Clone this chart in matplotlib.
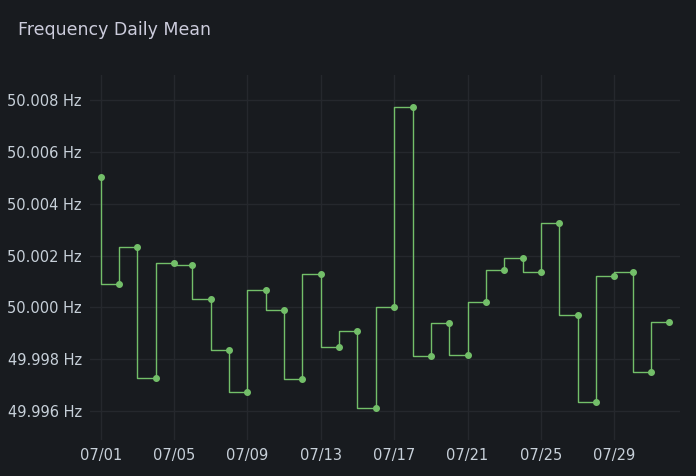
import matplotlib.pyplot as plt
import matplotlib.dates as mdates
import numpy as np
import pandas as pd

dates = pd.date_range("2024-07-01", "2024-08-01", freq="D")
freq = [50.00503, 50.00090, 50.00233, 49.99728, 50.00172, 50.00163, 50.00032,
        49.99836, 49.99673, 50.00067, 49.99990, 49.99724, 50.00130, 49.99848,
        49.99910, 49.99612, 50.00000, 50.00773, 49.99812, 49.99940, 49.99817,
        50.00020, 50.00145, 50.00190, 50.00137, 50.00326, 49.99970, 49.99635,
        50.00122, 50.00137, 49.99752, 49.99945]
tick_dates = pd.date_range("2024-07-01", "2024-07-29", freq="4D")

bg = "#181b1f"
fig = plt.figure(figsize=(6.96, 4.76), dpi=100, facecolor=bg)
ax = fig.add_axes([90 / 696, 36 / 476, 590 / 696, 365 / 476], facecolor=bg)

ax.plot(dates, freq, drawstyle="steps-pre", color="#73bf69", linewidth=1)
ax.plot(dates, freq, "o", color="#73bf69", markersize=4)

ax.set_ylim(49.99488, 50.00897)
ax.set_xlim(dates[0] - pd.Timedelta(hours=14), dates[-1] + pd.Timedelta(hours=14))
ax.set_yticks([49.996, 49.998, 50.000, 50.002, 50.004, 50.006, 50.008])
ax.yaxis.set_major_formatter(plt.FuncFormatter(lambda v, p: f"{v:.3f} Hz"))
ax.set_xticks(tick_dates)
ax.xaxis.set_major_formatter(mdates.DateFormatter("%m/%d"))

ax.grid(True, color="#25282d", linewidth=1)
for s in ax.spines.values():
    s.set_visible(False)
ax.tick_params(colors="#c7d0d9", labelsize=10.5, length=0, pad=6)

fig.text(18 / 696, 1 - 30 / 476, "Frequency Daily Mean", color="#ccccdc",
         fontsize=12.5, va="center", ha="left")

fig.savefig("out.png", facecolor=bg)
